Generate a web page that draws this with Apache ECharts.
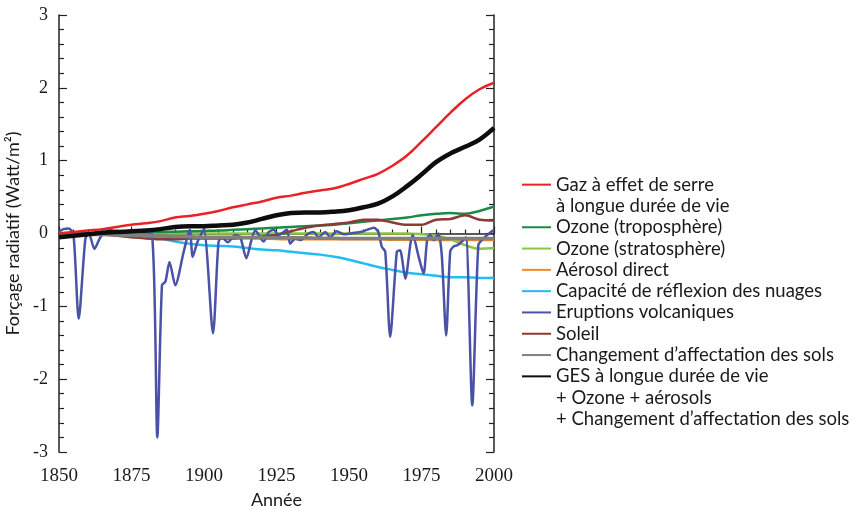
<!DOCTYPE html>
<html>
<head>
<meta charset="utf-8">
<script src="https://cdn.jsdelivr.net/npm/echarts@6/dist/echarts.min.js"></script>
<style>
html, body { margin: 0; padding: 0; background: #fff; }
#chart { width: 861px; height: 506px; }
</style>
</head>
<body>
<div id="chart"></div>
<script>
var chart = echarts.init(document.getElementById('chart'));

// years for the smooth forcing curves (every 5 years)
var years = [1850, 1855, 1860, 1865, 1870, 1875, 1880, 1885, 1890, 1895,
             1900, 1905, 1910, 1915, 1920, 1925, 1930, 1935, 1940, 1945,
             1950, 1955, 1960, 1965, 1970, 1975, 1980, 1985, 1990, 1995, 2000];

var ghg      = [0.00, 0.02, 0.04, 0.06, 0.09, 0.12, 0.14, 0.17, 0.22, 0.24,
                0.27, 0.31, 0.36, 0.40, 0.44, 0.49, 0.52, 0.56, 0.59, 0.62,
                0.68, 0.75, 0.82, 0.93, 1.07, 1.26, 1.46, 1.66, 1.84, 1.98, 2.07];
var ozoneTropo = [0.00, 0.00, 0.005, 0.01, 0.01, 0.015, 0.02, 0.02, 0.025, 0.03,
                0.035, 0.04, 0.05, 0.06, 0.07, 0.08, 0.09, 0.10, 0.11, 0.12,
                0.14, 0.16, 0.18, 0.20, 0.22, 0.25, 0.27, 0.28, 0.27, 0.31, 0.37];
var ozoneStrato = [0, 0, 0, 0, 0, 0, 0, 0, 0, 0,
                0, 0, 0, 0, 0, 0, 0, 0, 0, 0,
                0, 0, 0, 0, 0, -0.01, -0.03, -0.08, -0.16, -0.21, -0.20];
var aerosol  = [0.00, -0.005, -0.01, -0.015, -0.02, -0.025, -0.03, -0.035, -0.04, -0.045,
                -0.05, -0.055, -0.06, -0.065, -0.07, -0.075, -0.08, -0.08, -0.08, -0.08,
                -0.08, -0.08, -0.08, -0.085, -0.085, -0.085, -0.09, -0.09, -0.09, -0.09, -0.09];
var clouds   = [0.00, 0.00, -0.005, -0.01, -0.02, -0.03, -0.04, -0.07, -0.11, -0.14,
                -0.16, -0.17, -0.18, -0.20, -0.22, -0.23, -0.25, -0.27, -0.29, -0.32,
                -0.36, -0.41, -0.46, -0.50, -0.54, -0.56, -0.58, -0.60, -0.60, -0.61, -0.61];
var sun      = [0.00, 0.01, 0.00, -0.01, -0.03, -0.05, -0.07, -0.08, -0.08, -0.07,
                -0.07, -0.07, -0.07, -0.06, -0.04, -0.02, 0.03, 0.08, 0.11, 0.13,
                0.15, 0.19, 0.19, 0.15, 0.12, 0.12, 0.19, 0.20, 0.25, 0.19, 0.18];
var landUse  = [0.00, -0.005, -0.01, -0.015, -0.02, -0.025, -0.03, -0.035, -0.04, -0.045,
                -0.05, -0.05, -0.05, -0.055, -0.055, -0.06, -0.06, -0.06, -0.065, -0.065,
                -0.07, -0.07, -0.07, -0.07, -0.07, -0.07, -0.07, -0.07, -0.07, -0.07, -0.07];
var total    = [-0.05, -0.03, -0.01, 0.01, 0.02, 0.03, 0.04, 0.06, 0.09, 0.10,
                0.10, 0.11, 0.12, 0.15, 0.20, 0.25, 0.28, 0.29, 0.29, 0.30,
                0.32, 0.36, 0.41, 0.51, 0.65, 0.81, 0.98, 1.10, 1.19, 1.29, 1.45];

// volcanic forcing, read point by point
var volcYears = [1850, 1851.5, 1853.4, 1855, 1856.8, 1859.1, 1860.3, 1862.2, 1864.3, 1867.2,
                 1870, 1874, 1878, 1882, 1883.9, 1885.5, 1886.7, 1888.1, 1890.1, 1893,
                 1895.1, 1896.1, 1897.8, 1899.9, 1903.1, 1905, 1906.2, 1908.2, 1910.8, 1912.5,
                 1914.6, 1916.5, 1917.7, 1920.5, 1922.3, 1924, 1925.7, 1928.6, 1929.7, 1931.5,
                 1933.2, 1936, 1937.8, 1939.5, 1941.8, 1943.5, 1945.8, 1948.1, 1950.4, 1953.9,
                 1956.2, 1958.6, 1960.1, 1961.3, 1962.5, 1964.2, 1966.5, 1967.6, 1969.4, 1971.3,
                 1972, 1973.9, 1975.7, 1977, 1978, 1979.3, 1980.8, 1982, 1983.5, 1984.9,
                 1986, 1987.4, 1988.9, 1990.3, 1992.5, 1994.6, 1996.3, 1998, 2000];
var volcanic  = [0.02, 0.06, 0.07, -0.02, -1.17, -0.07, 0.00, -0.21, -0.05, 0.05,
                 0.03, 0.03, 0.02, 0.00, -2.80, -0.71, -0.66, -0.39, -0.71, -0.25,
                 0.05, -0.32, -0.11, 0.05, -1.37, -0.12, -0.05, -0.12, -0.02, -0.05,
                 -0.34, -0.07, 0.04, -0.11, 0.02, 0.05, -0.02, 0.05, -0.14, -0.07,
                 -0.09, 0.00, 0.02, -0.05, 0.02, -0.05, 0.03, -0.01, 0.00, 0.02,
                 0.05, 0.08, 0.02, -0.18, -0.25, -1.42, -0.25, -0.23, -0.62, -0.11,
                 -0.02, -0.30, -0.55, -0.07, -0.02, -0.09, 0.00, -0.30, -1.40, -0.25,
                 -0.18, -0.16, -0.11, -0.05, -2.36, -0.16, -0.07, -0.01, 0.05];

var xTicks = [1850, 1875, 1900, 1925, 1950, 1975, 2000];

function pairs(xs, ys) {
    return xs.map(function (x, i) { return [x, ys[i]]; });
}

function curve(name, xs, ys, color, width, smooth) {
    return {
        name: name,
        type: 'line',
        data: pairs(xs, ys),
        showSymbol: false,
        symbol: 'none',
        smooth: smooth,
        color: color,
        lineStyle: { color: color, width: width },
        emphasis: { disabled: true },
        animation: false
    };
}

function blank(name) {
    return {
        name: name,
        type: 'line',
        data: [],
        symbol: 'none',
        color: 'rgba(0,0,0,0)',
        lineStyle: { color: 'rgba(0,0,0,0)' }
    };
}

var tickStyle = { color: '#222', width: 1.2 };

var option = {
    backgroundColor: '#fff',
    animation: false,
    grid: { left: 59, right: 367, top: 15, bottom: 54, outerBoundsMode: 'none', containLabel: false },
    legend: {
        orient: 'vertical',
        left: 521,
        top: 174,
        padding: 0,
        itemWidth: 29,
        itemHeight: 10,
        itemGap: 0,
        selectedMode: false,
        itemStyle: { opacity: 0 },
        textStyle: { fontFamily: 'Lato', fontSize: 18.5, color: '#1a1a1a', lineHeight: 21.3 },
        data: [
            'Gaz à effet de serre',
            { name: 'à longue durée de vie', icon: 'none' },
            'Ozone (troposphère)',
            'Ozone (stratosphère)',
            'Aérosol direct',
            'Capacité de réflexion des nuages',
            'Eruptions volcaniques',
            'Soleil',
            'Changement d’affectation des sols',
            'GES à longue durée de vie',
            { name: '+ Ozone + aérosols', icon: 'none' },
            { name: '+ Changement d’affectation des sols', icon: 'none' }
        ]
    },
    xAxis: {
        type: 'value',
        min: 1850,
        max: 2000,
        interval: 25,
        name: 'Année',
        nameLocation: 'middle',
        nameGap: 30,
        nameTextStyle: { fontFamily: 'Lato', fontSize: 18, color: '#1a1a1a' },
        axisLine: { lineStyle: { color: '#222', width: 1.5 } },
        axisTick: { inside: true, length: 7, lineStyle: tickStyle },
        minorTick: { show: true, splitNumber: 5, length: 4, lineStyle: tickStyle },
        splitLine: { show: false },
        axisLabel: {
            fontFamily: 'Liberation Serif', fontSize: 19, color: '#1a1a1a', margin: 15,
            formatter: function (v) { return xTicks.indexOf(v) >= 0 ? String(v) : ''; }
        }
    },
    yAxis: [{
        type: 'value',
        min: -3,
        max: 3,
        interval: 1,
        position: 'left',
        name: 'Forçage radiatif (Watt/m²)',
        nameLocation: 'middle',
        nameGap: 20,
        nameTextStyle: { fontFamily: 'Lato', fontSize: 18, color: '#1a1a1a' },
        axisLine: { show: true, lineStyle: { color: '#222', width: 1.5 } },
        axisTick: { show: true, inside: true, length: 8, lineStyle: tickStyle },
        minorTick: { show: true, splitNumber: 5, length: 5, lineStyle: tickStyle },
        splitLine: { show: false },
        axisLabel: { fontFamily: 'Liberation Serif', fontSize: 18, color: '#1a1a1a', margin: 11 }
    }, {
        type: 'value',
        min: -3,
        max: 3,
        interval: 1,
        position: 'right',
        axisLine: { show: true, lineStyle: { color: '#222', width: 1.5 } },
        axisTick: { show: true, inside: true, length: 8, lineStyle: tickStyle },
        minorTick: { show: true, splitNumber: 5, length: 5, lineStyle: tickStyle },
        splitLine: { show: false },
        axisLabel: { show: false }
    }],
    series: [
        curve('Capacité de réflexion des nuages', years, clouds, '#22bdf0', 2.5, 0.4),
        curve('Aérosol direct', years, aerosol, '#f5891f', 2.5, 0.4),
        curve('Ozone (stratosphère)', years, ozoneStrato, '#8cc63f', 2.5, 0.4),
        curve('Ozone (troposphère)', years, ozoneTropo, '#1b8a45', 2.5, 0.4),
        curve('Soleil', years, sun, '#8c3a33', 2.5, 0.3),
        curve('Eruptions volcaniques', volcYears, volcanic, '#4a52a8', 2.5, 0.25),
        curve('Changement d’affectation des sols', years, landUse, '#808080', 3.5, 0.4),
        curve('Gaz à effet de serre', years, ghg, '#ea2228', 2.5, 0.4),
        curve('GES à longue durée de vie', years, total, '#0d0d0d', 4.5, 0.4),
        blank('à longue durée de vie'),
        blank('+ Ozone + aérosols'),
        blank('+ Changement d’affectation des sols')
    ]
};

chart.setOption(option);
window.onresize = chart.resize;
</script>
</body>
</html>
